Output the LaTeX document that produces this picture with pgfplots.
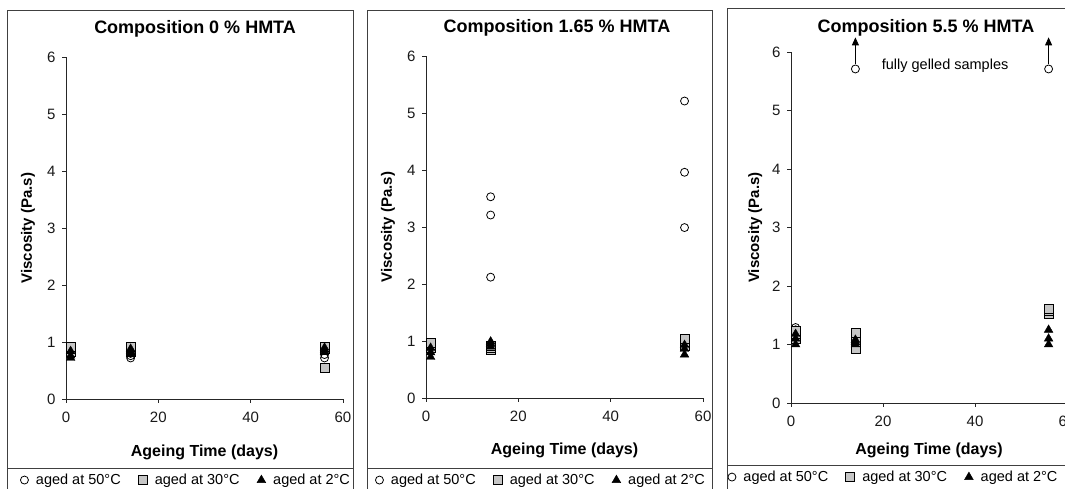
\documentclass[border=0pt]{standalone}
\usepackage{fontspec}
\setmainfont{Liberation Sans}
\usepackage{pgfplots}
\pgfplotsset{compat=1.18}
\usetikzlibrary{arrows.meta}

% common look of the three viscosity panels
\pgfplotsset{
  panel/.style={
    scale only axis,
    xmin=0, xmax=60, ymin=0, ymax=6,
    xtick={0,20,40,60}, ytick={0,1,...,6},
    axis lines=left,
    axis line style={-, line width=0.8pt, black!85},
    tick align=outside, major tick length=4pt,
    tick style={black!85, line width=0.8pt},
    /pgf/number format/assume math mode=true,
    ticklabel style={font=\fontsize{15}{15}\selectfont, black!90},
    xticklabel style={yshift=-5pt},
    yticklabel style={xshift=-3pt},
    xlabel={Ageing Time (days)},
    ylabel={Viscosity (Pa.s)},
    xlabel style={font=\bfseries\fontsize{16}{16}\selectfont, anchor=center},
    ylabel style={font=\bfseries\fontsize{15}{15}\selectfont, anchor=center},
    every axis title shift=0pt,
    title style={font=\bfseries\fontsize{18}{18}\selectfont, anchor=center},
    clip=false,
    legend columns=3,
    legend style={draw=none, fill=none, anchor=west,
      font=\fontsize{14.5}{16}\selectfont,
      /tikz/every odd column/.append style={column sep=5.5pt},
      /tikz/every even column/.append style={column sep=15.5pt}},
  },
  s50/.style={only marks, mark=o, mark size=4pt,
    mark options={draw=black, line width=0.8pt}},
  s30/.style={only marks, mark=square*, mark size=4.5pt,
    mark options={draw=black, fill=gray!45, line width=0.8pt}},
  s2/.style={only marks, mark=triangle*, mark size=5pt,
    mark options={draw=black, fill=black}},
}

\begin{document}
\begin{tikzpicture}
\useasboundingbox (0pt,0pt) rectangle (1065pt,489pt);
\clip (0pt,0pt) rectangle (1065pt,489pt);

% ---------- 0 % HMTA ----------
\begin{axis}[panel, at={(66pt,90pt)}, anchor=south west,
  width=277pt, height=342pt,
  title={Composition 0 \% HMTA},
  title style={at={(axis description cs:0.466,1.082)}},
  xlabel style={at={(axis description cs:0.5,-0.155)}},
  ylabel style={at={(axis description cs:-0.137,0.5)}},
  legend style={at={(axis description cs:-0.176,-0.237)}}]
\addplot[s50] coordinates {(1,0.78) (1,0.82) (1,0.86) (14,0.72) (14,0.76) (14,0.80) (56,0.72) (56,0.78) (56,0.85)};
\addplot[s30] coordinates {(1,0.82) (1,0.88) (1,0.92) (14,0.82) (14,0.87) (14,0.91) (56,0.55) (56,0.88) (56,0.92)};
\addplot[s2] coordinates {(1,0.72) (1,0.76) (1,0.84) (14,0.80) (14,0.84) (14,0.88) (56,0.82) (56,0.86) (56,0.90)};
\legend{aged at 50°C, aged at 30°C, aged at 2°C}
\end{axis}

% ---------- 1.65 % HMTA ----------
\begin{axis}[panel, at={(426pt,91pt)}, anchor=south west,
  width=277pt, height=342pt,
  title={Composition 1.65 \% HMTA},
  title style={at={(axis description cs:0.473,1.082)}},
  xlabel style={at={(axis description cs:0.5,-0.152)}},
  ylabel style={at={(axis description cs:-0.137,0.5)}},
  legend style={at={(axis description cs:-0.194,-0.240)}}]
\addplot[s50] coordinates {(1,0.85) (1,0.90) (1,0.95) (14,2.12) (14,3.21) (14,3.53) (56,2.99) (56,3.96) (56,5.21)};
\addplot[s30] coordinates {(1,0.88) (1,0.93) (1,0.97) (14,0.85) (14,0.88) (14,0.92) (56,0.92) (56,0.98) (56,1.03)};
\addplot[s2] coordinates {(1,0.72) (1,0.80) (1,0.88) (14,0.90) (14,0.95) (14,0.99) (56,0.76) (56,0.86) (56,0.93)};
\legend{aged at 50°C, aged at 30°C, aged at 2°C}
\end{axis}

% ---------- 5.5 % HMTA ----------
\begin{axis}[panel, at={(791pt,86pt)}, anchor=south west,
  width=276pt, height=351pt,
  title={Composition 5.5 \% HMTA},
  title style={at={(axis description cs:0.489,1.069)}},
  xlabel style={at={(axis description cs:0.5,-0.134)}},
  ylabel style={at={(axis description cs:-0.13,0.5)}},
  legend style={at={(axis description cs:-0.240,-0.211)}}]
\addplot[s50] coordinates {(1,1.20) (1,1.25) (1,1.29) (14,5.71) (56,5.71)};
\addplot[s30] coordinates {(1,1.10) (1,1.18) (1,1.24) (14,0.92) (14,1.05) (14,1.20) (56,1.53) (56,1.57) (56,1.60)};
\addplot[s2] coordinates {(1,1.00) (1,1.10) (1,1.18) (14,1.00) (14,1.04) (14,1.08) (56,1.00) (56,1.10) (56,1.25)};
\legend{aged at 50°C, aged at 30°C, aged at 2°C}
% gelled samples run off the scale
\draw[line width=0.8pt, -{Triangle[width=7pt,length=8pt]}] (axis cs:14,5.79) -- (axis cs:14,6.25);
\draw[line width=0.8pt, -{Triangle[width=7pt,length=8pt]}] (axis cs:56,5.79) -- (axis cs:56,6.25);
\node[font=\fontsize{14.5}{14.5}\selectfont] at (axis cs:33.5,5.76) {fully gelled samples};
\end{axis}

% panel frames with their legend strips
\begin{scope}[black!75, line width=0.8pt]
\draw (7pt,-5pt) rectangle (353pt,479pt);
\draw (7pt,21pt) -- (353pt,21pt);
\draw (367pt,-5pt) rectangle (712pt,479pt);
\draw (367pt,21pt) -- (712pt,21pt);
\draw (727pt,-5pt) rectangle (1075pt,481pt);
\draw (727pt,24pt) -- (1075pt,24pt);
\end{scope}
\end{tikzpicture}
\end{document}
